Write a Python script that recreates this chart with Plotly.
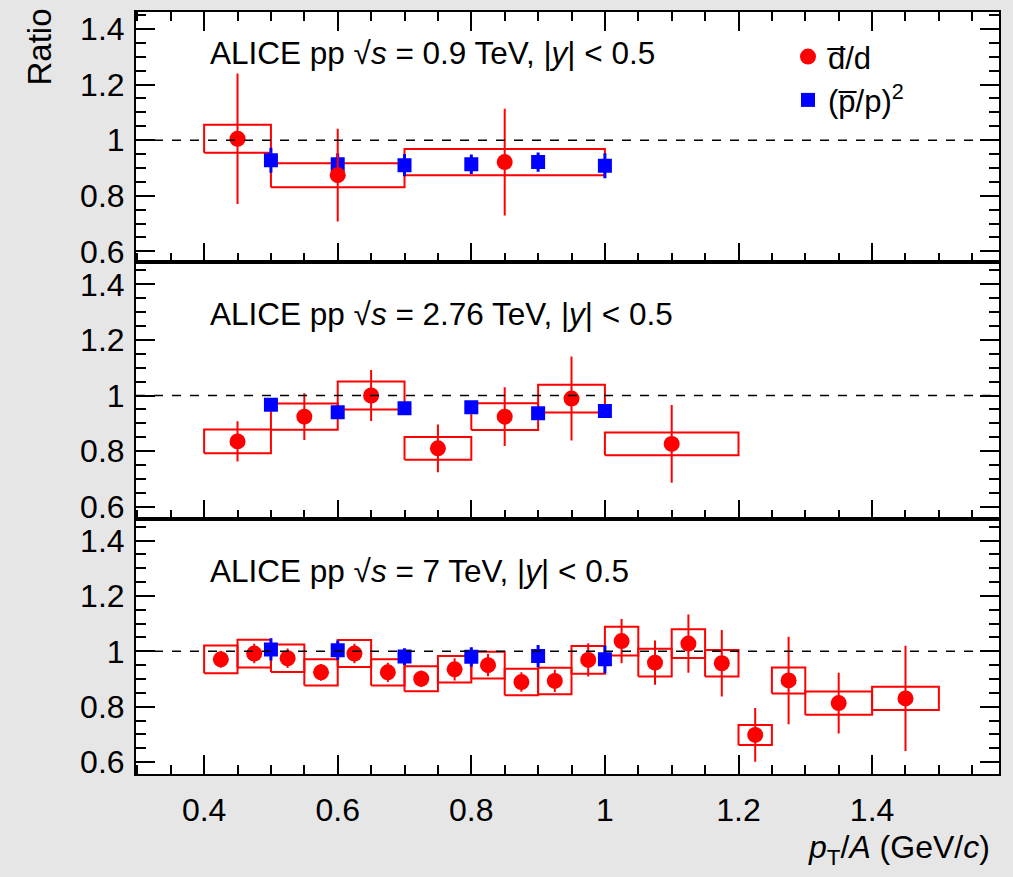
import plotly.graph_objects as go
from plotly.subplots import make_subplots

# ---------------- data ----------------
# sqrt(s) = 0.9 TeV
d09_x = [0.45, 0.6, 0.85]
d09_lo = [0.4, 0.5, 0.7]
d09_hi = [0.5, 0.7, 1.0]
d09_y = [1.005, 0.874, 0.921]
d09_stat = [0.235, 0.167, 0.192]
d09_sys = [0.050, 0.043, 0.047]
p09_x = [0.5, 0.6, 0.7, 0.8, 0.9, 1.0]
p09_y = [0.928, 0.913, 0.910, 0.913, 0.921, 0.908]
p09_err = [0.045, 0.040, 0.040, 0.035, 0.035, 0.045]

# sqrt(s) = 2.76 TeV
d276_x = [0.45, 0.55, 0.65, 0.75, 0.85, 0.95, 1.1]
d276_lo = [0.4, 0.5, 0.6, 0.7, 0.8, 0.9, 1.0]
d276_hi = [0.5, 0.6, 0.7, 0.8, 0.9, 1.0, 1.2]
d276_y = [0.835, 0.924, 1.000, 0.810, 0.924, 0.989, 0.826]
d276_stat = [0.072, 0.084, 0.092, 0.086, 0.106, 0.151, 0.140]
d276_sys = [0.043, 0.047, 0.050, 0.041, 0.048, 0.050, 0.041]
p276_x = [0.5, 0.6, 0.7, 0.8, 0.9, 1.0]
p276_y = [0.967, 0.940, 0.954, 0.958, 0.936, 0.944]
p276_err = [0.020, 0.018, 0.018, 0.018, 0.018, 0.020]

# sqrt(s) = 7 TeV
d7_x = [0.425, 0.475, 0.525, 0.575, 0.625, 0.675, 0.725, 0.775, 0.825, 0.875,
        0.925, 0.975, 1.025, 1.075, 1.125, 1.175, 1.225, 1.275, 1.35, 1.45]
d7_lo = [0.40, 0.45, 0.50, 0.55, 0.60, 0.65, 0.70, 0.75, 0.80, 0.85,
         0.90, 0.95, 1.00, 1.05, 1.10, 1.15, 1.20, 1.25, 1.30, 1.40]
d7_hi = [0.45, 0.50, 0.55, 0.60, 0.65, 0.70, 0.75, 0.80, 0.85, 0.90,
         0.95, 1.00, 1.05, 1.10, 1.15, 1.20, 1.25, 1.30, 1.40, 1.50]
d7_y = [0.971, 0.992, 0.975, 0.924, 0.992, 0.924, 0.901, 0.935, 0.950, 0.889,
        0.893, 0.969, 1.037, 0.959, 1.028, 0.957, 0.698, 0.895, 0.813, 0.830]
d7_stat = [0.030, 0.035, 0.035, 0.030, 0.035, 0.035, 0.030, 0.040, 0.040, 0.035,
           0.040, 0.060, 0.080, 0.080, 0.105, 0.120, 0.097, 0.158, 0.110, 0.190]
d7_sys = [0.050, 0.050, 0.050, 0.047, 0.049, 0.047, 0.045, 0.048, 0.048, 0.048,
          0.048, 0.050, 0.052, 0.050, 0.052, 0.048, 0.036, 0.047, 0.042, 0.042]
p7_x = [0.5, 0.6, 0.7, 0.8, 0.9, 1.0]
p7_y = [1.007, 1.004, 0.981, 0.980, 0.983, 0.971]
p7_err = [0.040, 0.035, 0.030, 0.035, 0.040, 0.050]

panel_labels = [
    "ALICE pp √<i>s</i> = 0.9 TeV, |<i>y</i>| < 0.5",
    "ALICE pp √<i>s</i> = 2.76 TeV, |<i>y</i>| < 0.5",
    "ALICE pp √<i>s</i> = 7 TeV, |<i>y</i>| < 0.5",
]
y_tickvals = [0.6, 0.8, 1.0, 1.2, 1.4]
y_ticktext = ["0.6", "0.8", "1", "1.2", "1.4"]
x_tickvals = [0.4, 0.6, 0.8, 1.0, 1.2, 1.4]
x_ticktext = ["0.4", "0.6", "0.8", "1", "1.2", "1.4"]

RED = "#ff0000"
BLUE = "#0000ff"
FONT = "Liberation Sans, Arial, Helvetica, sans-serif"

panels = [
    (d09_x, d09_lo, d09_hi, d09_y, d09_stat, d09_sys, p09_x, p09_y, p09_err),
    (d276_x, d276_lo, d276_hi, d276_y, d276_stat, d276_sys, p276_x, p276_y, p276_err),
    (d7_x, d7_lo, d7_hi, d7_y, d7_stat, d7_sys, p7_x, p7_y, p7_err),
]

fig = make_subplots(rows=3, cols=1, shared_xaxes=True, vertical_spacing=0)

for i, (dx, dlo, dhi, dy, dst, dsy, px, py, perr) in enumerate(panels):
    row = i + 1
    # systematic boxes
    bx, by = [], []
    for lo, hi, yv, s in zip(dlo, dhi, dy, dsy):
        bx += [lo, lo, hi, hi, lo, None]
        by += [yv - s, yv + s, yv + s, yv - s, yv - s, None]
    fig.add_trace(go.Scatter(x=bx, y=by, mode="lines",
                             line=dict(color=RED, width=2),
                             showlegend=False, hoverinfo="skip"), row=row, col=1)
    # (pbar/p)^2
    fig.add_trace(go.Scatter(x=px, y=py, mode="markers",
                             marker=dict(symbol="square", size=14, color=BLUE),
                             error_y=dict(type="data", array=perr, color=BLUE,
                                          thickness=3, width=0),
                             name="(p\u0305/p)<sup>2</sup>", legendrank=2,
                             showlegend=(i == 0)), row=row, col=1)
    # dbar/d
    fig.add_trace(go.Scatter(x=dx, y=dy, mode="markers",
                             marker=dict(symbol="circle", size=16, color=RED),
                             error_y=dict(type="data", array=dst, color=RED,
                                          thickness=2, width=0),
                             name="d\u0305/d", legendrank=1,
                             showlegend=(i == 0)), row=row, col=1)
    # dashed unity line
    fig.add_shape(type="line", xref="x domain", x0=0, x1=1, y0=1, y1=1,
                  line=dict(color="black", width=1.5, dash="dash"),
                  row=row, col=1)

# geometry
L, R, T, B = 136, 14, 10, 103
H = 877 - T - B
W = 1013 - L - R
bounds = [10, 261, 518, 774]
domains = [((774 - bounds[k + 1]) / H, (774 - bounds[k]) / H) for k in range(3)]
label_y = [0.835, 0.800, 0.795]
yranges = [[0.5605, 1.461], [0.557, 1.479], [0.557, 1.479]]

for k in range(3):
    row = k + 1
    fig.update_yaxes(domain=list(domains[k]), range=yranges[k],
                     tickvals=y_tickvals, ticktext=y_ticktext,
                     ticks="inside", ticklen=19, tickwidth=1.5, tickcolor="black",
                     minor=dict(dtick=0.05, ticks="inside", ticklen=10,
                                tickwidth=1.5, tickcolor="black"),
                     showline=True, linecolor="black", linewidth=2,
                     mirror="allticks", showgrid=False, zeroline=False,
                     tickfont=dict(family=FONT, size=32, color="black"),
                     ticklabelstandoff=3,
                     row=row, col=1)
    fig.update_xaxes(range=[0.298, 1.59],
                     tickvals=x_tickvals, ticktext=x_ticktext,
                     ticks="inside", ticklen=19, tickwidth=1.5, tickcolor="black",
                     minor=dict(dtick=0.05, ticks="inside", ticklen=9,
                                tickwidth=1.5, tickcolor="black"),
                     showline=True, linecolor="black", linewidth=2,
                     mirror=("allticks" if k == 0 else True),
                     showgrid=False, zeroline=False,
                     showticklabels=(k == 2),
                     tickfont=dict(family=FONT, size=32, color="black"),
                     ticklabelstandoff=7,
                     row=row, col=1)
    fig.add_annotation(text=panel_labels[k], xref="x domain" if k == 0 else f"x{row} domain",
                       yref="y domain" if k == 0 else f"y{row} domain",
                       x=(208 - L) / W, y=label_y[k],
                       xanchor="left", yanchor="middle", showarrow=False,
                       font=dict(family=FONT, size=31.5, color="black"))

fig.add_annotation(text="Ratio", xref="paper", yref="paper",
                   x=(40 - L) / W, y=(774 - 5) / H,
                   xanchor="center", yanchor="top", textangle=-90, showarrow=False,
                   font=dict(family=FONT, size=33, color="black"))
fig.add_annotation(text="<i>p</i><sub>T</sub>/<i>A</i> (GeV/<i>c</i>)",
                   xref="paper", yref="paper",
                   x=(992 - L) / W, y=(774 - 850) / H,
                   xanchor="right", yanchor="middle", showarrow=False,
                   font=dict(family=FONT, size=32, color="black"))

fig.update_layout(
    width=1013, height=877,
    margin=dict(l=L, r=R, t=T, b=B),
    paper_bgcolor="#e6e6e6", plot_bgcolor="white",
    showlegend=True,
    legend=dict(x=(788 - L) / W, y=(774 - 28) / H,
                xanchor="left", yanchor="top",
                bgcolor="rgba(0,0,0,0)", borderwidth=0,
                font=dict(family=FONT, size=31, color="black"),
                itemwidth=30, tracegroupgap=0),
)

fig.write_html("out.html")
